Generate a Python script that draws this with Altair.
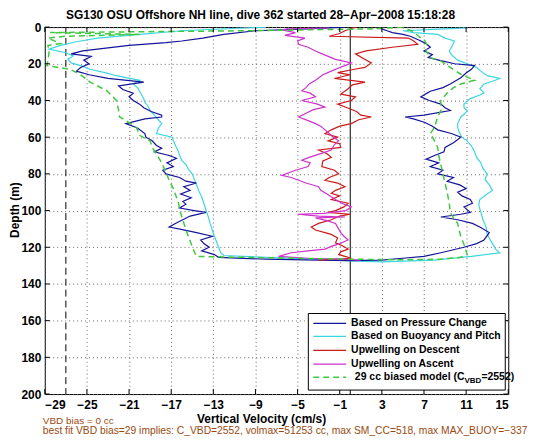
import altair as alt
import pandas as pd

# ---------------- data (depth m, vertical velocity cm/s) ----------------
blue_d = [0,1,2,4,6,7.6,8.5,10,12,13,14.6,16,18,20,22,24,26,28,30,32,34,36,38,40,42,44,46,48,49,50,52.6,55,58,60,62,64.5,66,68,70,71.5,74,76,78,80,82,84,85,87,89,91,93,95,96.5,98.6,100,101,103,105,107,109,110.5,112,114,116,118,120,122,124,125.5,
          126.5,127,127.3,127,
          126,125,123,120,118,116,112,109,107,105,103.5,102,101,98,96,94,92,90,88,86,84,82,80,78,76,74,72,70,68,65.6,63,60,58,56,54,52,50,49,48,45.5,44,42,40,38,36,35,33,31,29,27.6,25,23,21,20,18,16.6,15,13,11,9,7,5,4,3,2,1,0.5]
blue_v = [-0.5,-4,-9,-12,-14,-16,-17.5,-21,-24,-25.4,-26.5,-24.6,-25.3,-24.8,-25.6,-26,-24.8,-23,-19.6,-22,-21.6,-20.6,-21,-20.6,-20,-19.6,-18.9,-17.9,-17.9,-19.5,-21.3,-20.2,-19.5,-19.4,-18.8,-18.4,-17.9,-18.6,-17.2,-16.5,-17.4,-16.8,-17.8,-17.5,-16.2,-15.6,-14.6,-15.8,-15.2,-16.1,-15.1,-15.9,-15.6,-16.2,-14.8,-13.7,-15.2,-15.9,-16.6,-17.2,-15.8,-14.6,-13.1,-14.2,-13.9,-13.4,-14.1,-12.9,-12.5,
          -8,-3,0,3,
          5,7,8.6,10.8,12,12.7,13.2,12.3,11.6,10.2,8.6,10.5,11.4,10.8,11.6,11.4,10.6,10.2,11.0,10.4,9.2,9.8,8.3,8.8,7.6,8.4,7.2,8.0,8.9,9.0,9.8,10.5,9.6,8.3,7.8,7.1,6.0,5.2,7.0,9.5,9.0,8.6,7.5,6.7,7.3,7.6,8.8,9.5,10.1,10.5,11.0,11.5,11.8,9.9,8.4,7.4,7.8,7.0,7.6,7.2,6.5,5.7,5.0,4.0,3.5,3.0,2.5]

cyan_d = [0,2,4,6,8,10,12,14,15.7,17.5,19.5,21,23,25,26.5,29,31,33,35,37,39,41,43,45.5,48,50,52.6,55,58,60,62,65.6,68,70,72.6,75,78,80,83,86,89,92.6,96,99.7,103,107,110.6,114,117,120,123,124.5,
          125.5,126.5,127.5,128,127,125,123,
          121,118,116,113,109,105,101,97,94,91,89,86,83,80,77,74,71,68,65.6,62,60,58,55,52.6,49,47,45.5,44,42,39,37,36,33.6,31,29.5,28,26.5,24,22,20,18,16.6,15,13,10,7.6,6,4,3,2,1,0.5]
cyan_v = [-8,-16,-20,-24,-26,-27.5,-28.6,-27,-26.3,-26.8,-26.5,-25.6,-24.7,-23.2,-22.2,-20,-20.6,-20.2,-20.0,-19.8,-19.6,-19.5,-19.2,-19,-18.6,-18.3,-17.9,-18.2,-18.4,-16.9,-16.8,-16.5,-16.3,-16.2,-16,-15.6,-15.3,-15,-14.8,-14.6,-14.4,-14.1,-13.9,-13.7,-13.5,-13.3,-13.1,-12.9,-12.7,-12.5,-12.3,-12,
          -8,-3,0,3,8,11.5,14.2,
          13.8,13.5,13.3,13.0,12.9,12.6,12.4,12.2,12.3,13.0,13.5,13.2,12.8,13,12.6,12.4,12.0,11.8,11.6,11.1,10.6,10.4,10.2,10.2,10.5,10.9,11.1,10.8,10.8,11.4,12.3,12.7,12.3,12.7,13.5,14.2,13.0,12.4,12,11.1,10.2,9.9,9.6,9.4,9.7,9.9,9.0,8.3,6,5,9,11]

red_d = [0,2,3.5,5,6,7.5,9.4,11,13,14.6,17,19.5,22,23,24.8,26,28,30,31.5,33.6,36.5,38,40,42,44,46,48,49,50.5,52.6,54,56,58,60,62,63.6,65.6,67,69,71,73,76,78,80,82,83.5,85,87,89,90.6,92,94,96,98,100,101,102,103,105,107,109,110.6,112,113,115,117.6,119,121,122.5,124,125,126,127]
red_v = [0.5,-0.5,-1,-2,5.5,6,6.4,4,1.5,0.5,1.2,2,1.4,0.4,-1.2,0,-1.5,1.4,0.2,-0.2,-0.9,0.5,0.1,-1.2,-0.3,0.6,1.0,2,0.8,0.1,-1,-1.8,-2.4,-1.2,-2.1,-1.0,-0.9,-3,-2.2,-1.8,-2.6,-2.7,-1.5,-1.1,-2.0,-2.4,-1.2,-0.5,-1.4,-1.8,-1.0,-1.8,-0.2,-0.6,-1.4,-2.1,0,-1,-1.8,-3,-3.7,-3.3,-2.4,-1.8,-1.2,-1.4,-0.8,-0.2,-0.9,-1.1,-0.5,0.1,-3]

mag_d = [0.5,1,1.6,3,4.5,6,7.5,9.4,11,13,15,17.6,19.5,21,22,24,26,29,31,33,34.7,36,38,40,42,43.6,45,47,49,51,52.6,54,56,58,60,62,64,67,69,71,72.6,74,76,78,80.8,82,83.5,85,87,89,91,94,96,98,100,101.5,102,103,103.5,104,105.5,107,109,112,114,116,118,119.5,121,122,123,125,126,126.5,127]
mag_v = [-2,-6,-6.5,-5.2,-6.2,-4.3,-5,-4.9,-4.0,-3.3,-2.5,-1.4,0.1,-0.5,-1.0,-1.8,-2.6,-3.3,-3.9,-4.2,-4.6,-3.8,-3.3,-4.6,-3.1,-2.4,-3.5,-4.2,-4.9,-4.0,-3.3,-2.8,-2.4,-2.0,-1.6,-1.1,-1.5,-1.8,-2.8,-3.9,-4.6,-3.8,-4.0,-5.2,-6.5,-5.6,-4.9,-4.2,-3.0,-2.8,-2.2,-1.4,-0.8,0.1,-0.4,-2.5,-5,-3,-0.5,-3.3,-2.2,-1.4,-1.2,-0.9,-0.6,-0.2,-1.0,-1.8,-2.4,-4,-5.6,-6.8,-4,-1,1]

green_d = [0,1,2,3,4,5,6,9,10,14,18,21,23,26,30,34.7,40,45,49,52,54.7,59,62,65.6,70,74,79,83.5,88,92.7,96,99.7,105,110.6,115,119.8,125,125.5,
           126,126.5,126.8,126.5,125.5,124,
           120,117,114,110,107,104,101,96,90,85,80,75,70,65.6,62,58,54.7,49,45.5,40,36,33,31,29,27,25.7,22,18.4,16.6,13,10,7.6,5,2,0.5]
green_v = [5,2,-10,-28.5,-20,-27,-28.7,-27.5,-28.7,-28.6,-28.7,-28.8,-26.6,-25.6,-24.7,-23.1,-22.2,-22,-21.9,-21,-20.3,-20,-19,-18.8,-18.3,-17.9,-17.5,-17.2,-16.8,-16.5,-16.3,-16.2,-15.9,-15.6,-15.3,-15,-14.6,-10,
           -5,0,5,8.5,10.5,11.1,
           10.9,10.7,10.5,10.3,10.2,9.8,9.5,9.4,9.2,9.0,8.8,8.6,8.4,8.3,8.0,7.6,8.0,8.3,8.6,8.6,9.2,9.8,10.5,11.8,11.0,10.5,9.5,8.6,7.6,7.2,7.3,7.1,6.5,5.8,5]

x_ticks = list(range(-29, 16, 4))
y_ticks = list(range(0, 201, 20))
ref_lines = [0]
ref_dashed = [-27]

legend_labels = ["Based on Pressure Change", "Based on Buoyancy and Pitch",
                 "Upwelling on Descent", "Upwelling on Ascent"]
colors = {"blue": "#14149a", "cyan": "#3cd6e2", "red": "#cc1a1a",
          "mag": "#cc33cc", "green": "#40c840"}

title_txt = "SG130 OSU Offshore NH line, dive 362 started 28\u2212Apr\u22122008 15:18:28"
note1 = "VBD bias = 0 cc"
note2 = "best fit VBD bias=29 implies: C_VBD=2552, volmax=51253 cc, max SM_CC=518, max MAX_BUOY=\u2212337"

W, H = 466, 369
FONT = "Liberation Sans"
BROWN = "#9a4a10"

xs = alt.Scale(domain=[-29, 15], nice=False, zero=False)
ys = alt.Scale(domain=[0, 200], reverse=True, nice=False, zero=False)

xa = alt.Axis(values=x_ticks, format="d", grid=True, ticks=False, domain=False, title=None,
              labelFont=FONT, labelFontSize=12, labelFontWeight="bold",
              labelColor="black", labelPadding=6, gridColor="#666",
              gridDash=[1, 3], gridOpacity=1)
ya = alt.Axis(values=y_ticks, format="d", grid=True, ticks=False, domain=False, title=None,
              labelFont=FONT, labelFontSize=12, labelFontWeight="bold",
              labelColor="black", labelPadding=4, gridColor="#666",
              gridDash=[1, 3], gridOpacity=1)


def X(field="v"):
    return alt.X(f"{field}:Q", scale=xs, axis=xa)


def Y(field="depth"):
    return alt.Y(f"{field}:Q", scale=ys, axis=ya)


def series_df(d, v):
    return pd.DataFrame({"depth": d, "v": v, "i": list(range(len(d)))})


def line_layer(d, v, color, dash=None, width=1.2):
    kw = dict(color=color, strokeWidth=width, clip=True)
    if dash:
        kw["strokeDash"] = dash
    return alt.Chart(series_df(d, v)).mark_line(**kw).encode(
        x=X(), y=Y(), order="i:Q")


xt_df = pd.DataFrame({"v": x_ticks})
yt_df = pd.DataFrame({"depth": y_ticks})
tick_top = alt.Chart(xt_df).mark_rule(color="black").encode(
    x=X(), y=alt.value(0), y2=alt.value(5))
tick_bot = alt.Chart(xt_df).mark_rule(color="black").encode(
    x=X(), y=alt.value(H), y2=alt.value(H - 5))
tick_left = alt.Chart(yt_df).mark_rule(color="black").encode(
    y=Y(), x=alt.value(0), x2=alt.value(5))
tick_right = alt.Chart(yt_df).mark_rule(color="black").encode(
    y=Y(), x=alt.value(W), x2=alt.value(W - 5))

vline = alt.Chart(pd.DataFrame({"v": ref_lines})).mark_rule(color="black", strokeWidth=1).encode(
    x=X(), y=alt.value(0), y2=alt.value(H))
vdash = alt.Chart(pd.DataFrame({"v": ref_dashed})).mark_rule(color="black", strokeWidth=1,
                                                             strokeDash=[7, 4]).encode(
    x=X(), y=alt.value(0), y2=alt.value(H))

lines = [
    line_layer(cyan_d, cyan_v, colors["cyan"]),
    line_layer(blue_d, blue_v, colors["blue"]),
    line_layer(red_d, red_v, colors["red"]),
    line_layer(mag_d, mag_v, colors["mag"]),
    line_layer(green_d, green_v, colors["green"], dash=[6, 4], width=1.5),
]

# legend (drawn manually for the subscript)
one = pd.DataFrame({"a": [0]})
leg_box = alt.Chart(one).mark_rect(fill="white", stroke="black", strokeWidth=1).encode(
    x=alt.value(265), x2=alt.value(463), y=alt.value(288), y2=alt.value(365))
leg_rows = pd.DataFrame({
    "label": legend_labels,
    "yp": [298, 311, 325, 339],
    "c": [colors["blue"], colors["cyan"], colors["red"], colors["mag"]],
})
leg_lines = alt.Chart(leg_rows).mark_rule(strokeWidth=1.3).encode(
    x=alt.value(270), x2=alt.value(303), y=alt.Y("yp:Q", scale=None),
    color=alt.Color("c:N", scale=None))
leg_green = alt.Chart(one).mark_rule(strokeWidth=1.5, strokeDash=[6, 4], color=colors["green"]).encode(
    x=alt.value(270), x2=alt.value(303), y=alt.value(352))
leg_text = alt.Chart(leg_rows).mark_text(align="left", baseline="middle", font=FONT,
                                         fontSize=10.5, fontWeight="bold", color="black").encode(
    x=alt.value(308), y=alt.Y("yp:Q", scale=None), text="label:N")
leg_t1 = alt.Chart(one).mark_text(align="right", baseline="middle", font=FONT, fontSize=10.5,
                                  fontWeight="bold", color="black").encode(
    x=alt.value(422), y=alt.value(352), text=alt.value("29 cc biased model (C"))
leg_t2 = alt.Chart(one).mark_text(align="left", baseline="middle", font=FONT, fontSize=8,
                                  fontWeight="bold", color="black").encode(
    x=alt.value(422), y=alt.value(356), text=alt.value("VBD"))
leg_t3 = alt.Chart(one).mark_text(align="left", baseline="middle", font=FONT, fontSize=10.5,
                                  fontWeight="bold", color="black").encode(
    x=alt.value(439), y=alt.value(352), text=alt.value("=2552)"))


def txt(s, x, y, size=12, weight="bold", color="black", align="center", angle=0):
    return alt.Chart(one).mark_text(align=align, baseline="middle", font=FONT, fontSize=size,
                                    fontWeight=weight, color=color, angle=angle).encode(
        x=alt.value(x), y=alt.value(y), text=alt.value(s))


texts = [
    txt(title_txt, 217, -12),
    txt("Vertical Velocity (cm/s)", 218, 394),
    txt("Depth (m)", -29.5, 184, angle=270),
    txt(note1, -2, 396, size=10, weight="normal", color=BROWN, align="left"),
    txt(note2, -2, 406.5, size=10.35, weight="normal", color=BROWN, align="left"),
]

chart = alt.layer(
    vdash, vline, *lines, tick_top, tick_bot, tick_left, tick_right,
    leg_box, leg_lines, leg_green, leg_text, leg_t1, leg_t2, leg_t3, *texts
).properties(
    width=W, height=H,
    autosize=alt.AutoSizeParams(type="none"),
    padding={"left": 37, "top": 18, "right": 44, "bottom": 43},
).configure_view(stroke="black", strokeWidth=1)

chart.save("out.html", embed_options={"renderer": "svg", "actions": False})
